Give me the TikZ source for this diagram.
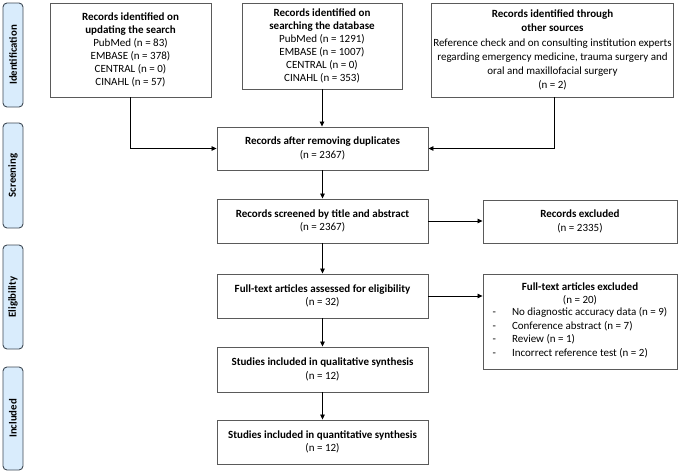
\documentclass[tikz,border=0pt]{standalone}
\usepackage{fontspec}
\setmainfont{Carlito}
\usetikzlibrary{arrows.meta}
\definecolor{boxline}{HTML}{5A5A5A}
\definecolor{sidefill}{HTML}{D9ECFC}
\definecolor{sideline}{HTML}{3F4A55}
\begin{document}
\begin{tikzpicture}[x=1pt,y=-1pt,
  box/.style={draw=boxline, line width=0.9pt, fill=white, align=center, inner sep=2pt,
    font=\fontsize{11}{13.6}\selectfont},
  side/.style={draw=sideline, line width=0.9pt, fill=sidefill, rounded corners=4pt,
    minimum width=20pt},
  sidetext/.style={rotate=90, font=\fontsize{10.8}{12}\selectfont\bfseries},
  arr/.style={draw=black, line width=0.8pt, -{Triangle[length=5pt,width=4.5pt]}}]
\useasboundingbox (0,0) rectangle (680,471);
% side labels
\node[side, minimum height=104pt] (s1) at (13,55) {};
\node[sidetext] (t1) at (s1.center) {Identification};
\node[side, minimum height=105pt] (s2) at (13,175.5) {};
\node[sidetext] (t2) at (s2.center) {Screening};
\node[side, minimum height=104pt] (s3) at (13,297) {};
\node[sidetext] (t3) at (s3.center) {Eligibility};
\node[side, minimum height=103pt] (s4) at (13,418.5) {};
\node[sidetext] (t4) at (s4.center) {Included};
% identification boxes
\node[box, font=\fontsize{11}{13}\selectfont, minimum width=161pt, minimum height=94pt] (A) at (130.5,50)
  {\textbf{Records identified on}\\\textbf{updating the search}\\PubMed (n = 83)\\EMBASE (n = 378)\\CENTRAL (n = 0)\\CINAHL (n = 57)};
\node[box, font=\fontsize{11}{13}\selectfont, minimum width=160pt, minimum height=86pt] (B) at (322,46)
  {\textbf{Records identified on}\\\textbf{searching the database}\\PubMed (n = 1291)\\EMBASE (n = 1007)\\CENTRAL (n = 0)\\CINAHL (n = 353)};
\node[box, font=\fontsize{11}{14.1}\selectfont, minimum width=241pt, minimum height=94pt] (C) at (552.5,50)
  {\textbf{Records identified through}\\\textbf{other sources}\\Reference check and on consulting institution experts\\regarding emergency medicine, trauma surgery and\\oral and maxillofacial surgery\\(n = 2)};
% main column
\node[box, minimum width=211pt, minimum height=43pt] (D) at (322.5,148.5)
  {\textbf{Records after removing duplicates}\\(n = 2367)};
\node[box, minimum width=211pt, minimum height=44pt] (E) at (322.5,221)
  {\textbf{Records screened by title and abstract}\\(n = 2367)};
\node[box, minimum width=194pt, minimum height=43pt] (X1) at (580,221.5)
  {\textbf{Records excluded}\\(n = 2335)};
\node[box, minimum width=211pt, minimum height=44pt] (F) at (322.5,296)
  {\textbf{Full-text articles assessed for eligibility}\\(n = 32)};
\node[box, minimum width=194pt, minimum height=95pt] (X2) at (580,321.5)
  {\textbf{Full-text articles excluded}\\(n = 20)\\
   \begin{tabular}{@{}l@{\hspace{16pt}}l@{}}
   - & No diagnostic accuracy data (n = 9)\\
   - & Conference abstract (n = 7)\\
   - & Review (n = 1)\\
   - & Incorrect reference test (n = 2)
   \end{tabular}};
\node[box, minimum width=211pt, minimum height=45pt] (G) at (322.5,369.5)
  {\textbf{Studies included in qualitative synthesis}\\(n = 12)};
\node[box, minimum width=211pt, minimum height=44pt] (H) at (322.5,442)
  {\textbf{Studies included in quantitative synthesis}\\(n = 12)};
% connectors
\draw[arr] (A.south) |- (D.west);
\draw[arr] (B.south) -- (B.south |- D.north);
\draw[arr] ([xshift=2pt]C.south) |- (D.east);
\draw[arr] (D.south) -- (E.north);
\draw[arr] (E.east) -- (E.east -| X1.west);
\draw[arr] (E.south) -- (F.north);
\draw[arr] (F.east) -- (F.east -| X2.west);
\draw[arr] (F.south) -- (G.north);
\draw[arr] (G.south) -- (H.north);
\end{tikzpicture}
\end{document}
